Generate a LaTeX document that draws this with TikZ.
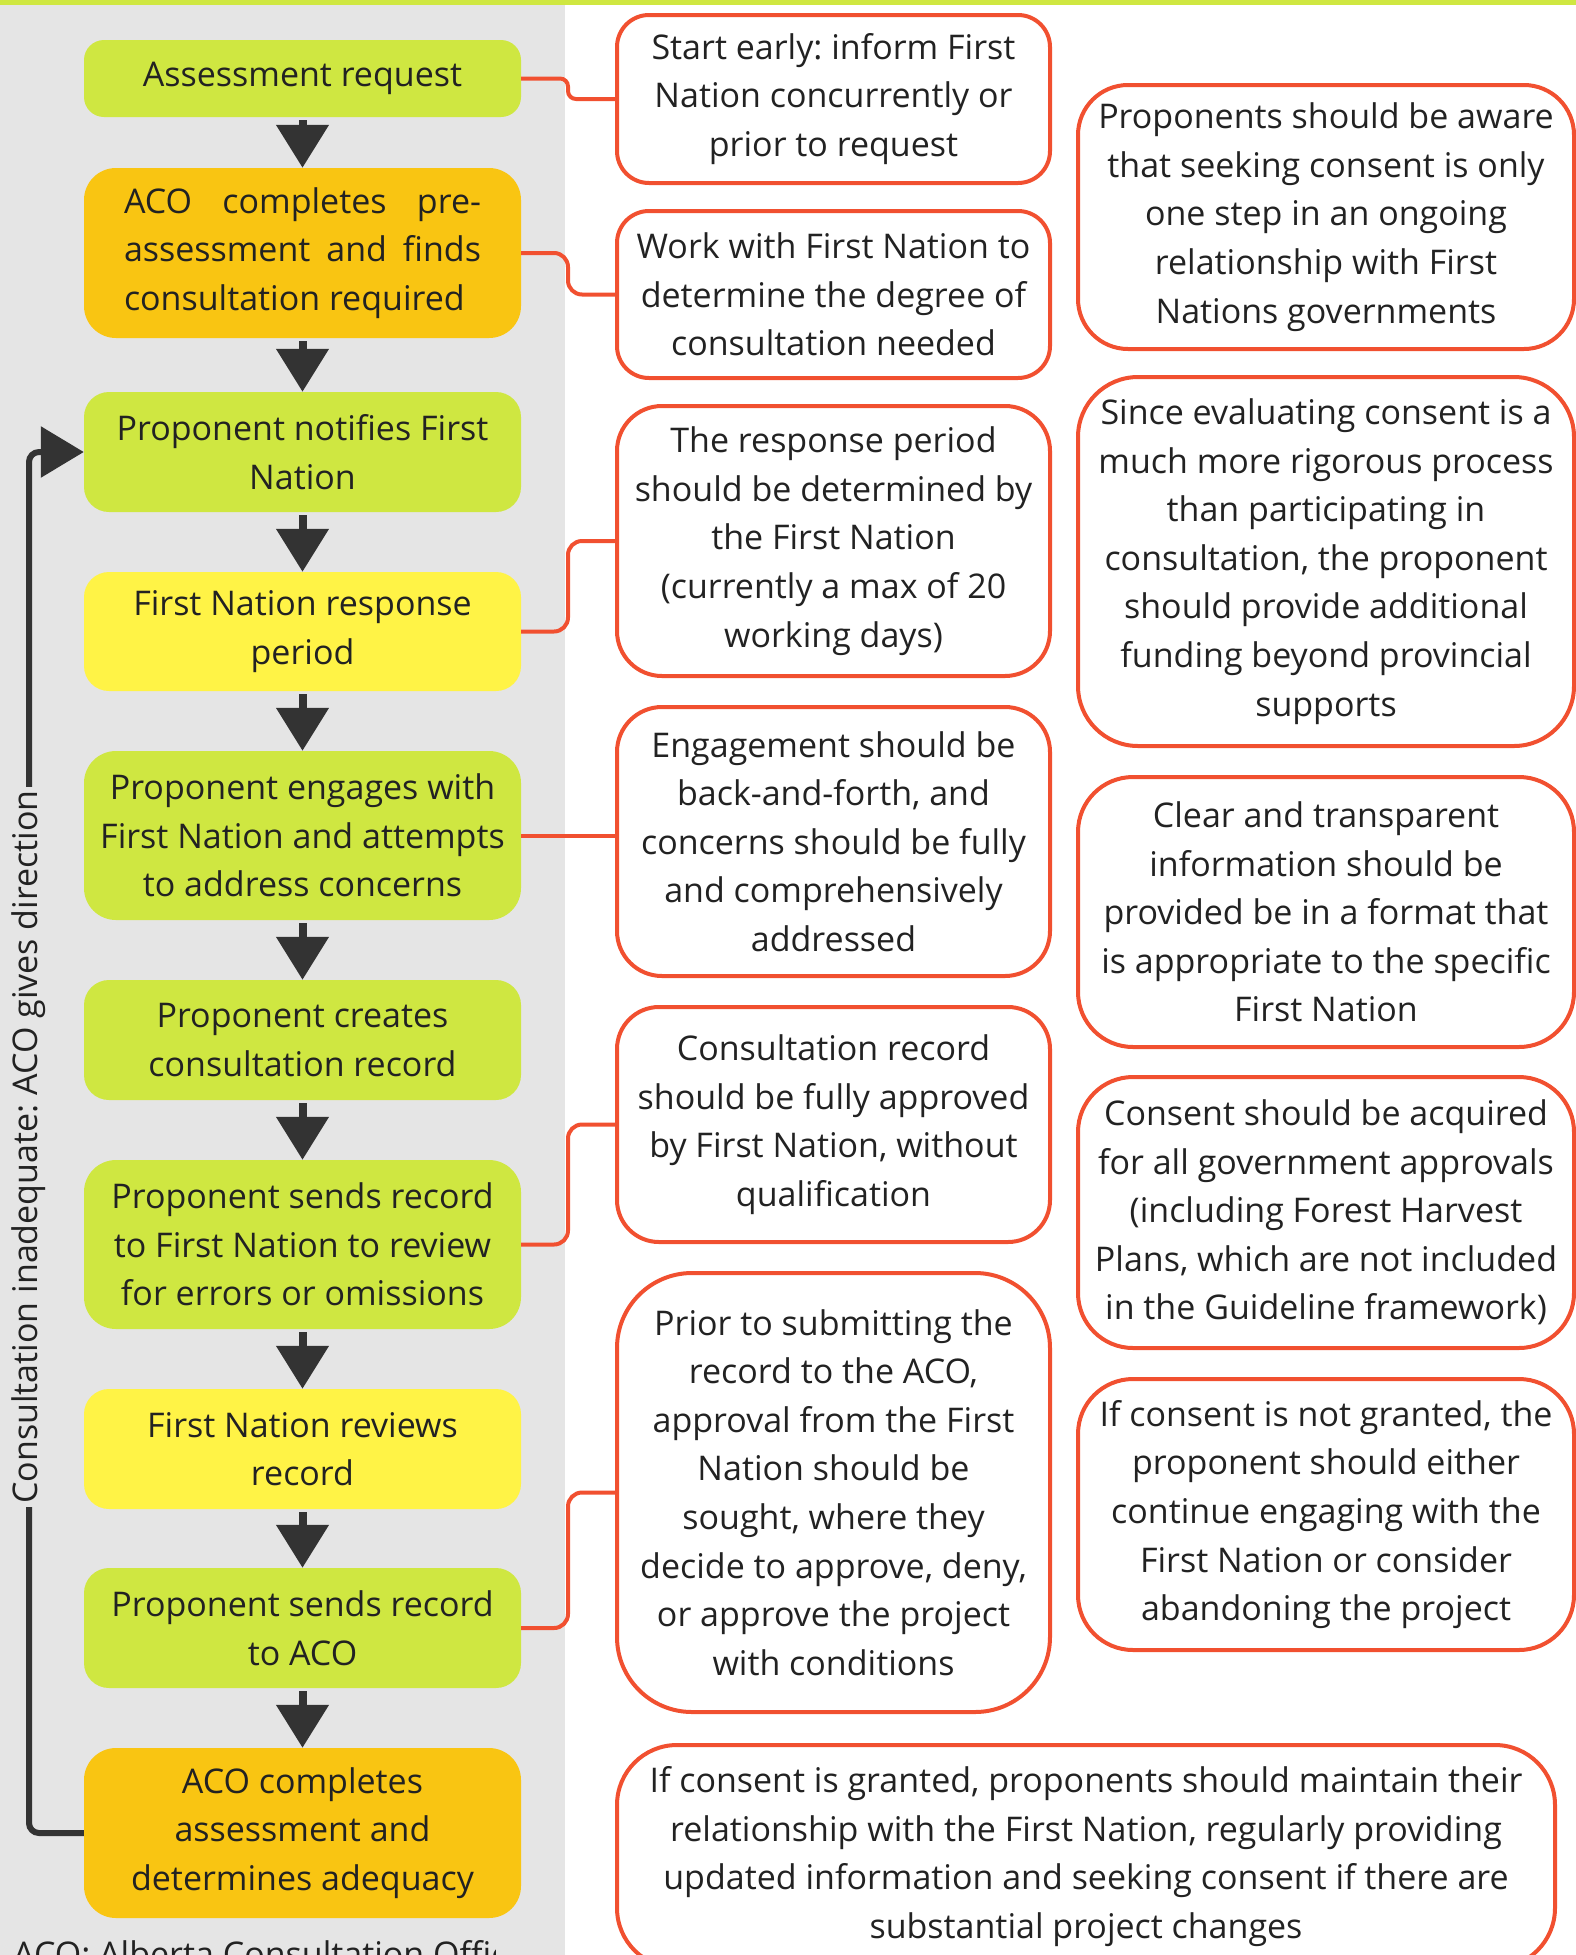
\documentclass[tikz,border=0pt]{standalone}
\usepackage{fontspec}
\setmainfont{Open Sans}
\usetikzlibrary{arrows.meta}
\definecolor{lime}{RGB}{207,231,65}
\definecolor{amber}{RGB}{249,197,18}
\definecolor{lemon}{RGB}{255,243,70}
\definecolor{panel}{RGB}{229,229,229}
\definecolor{redline}{RGB}{241,80,48}
\definecolor{dark}{RGB}{51,51,51}
\definecolor{txt}{RGB}{34,34,34}
\newcommand\boxfont{\fontsize{34pt}{48.6pt}\selectfont}
\newlength\jw
\setlength\jw{357pt}
\newcommand\justline[1]{\makebox[\jw][s]{#1}}
\frenchspacing
\begin{document}
\begin{tikzpicture}[x=1pt,y=-1pt,
  stepbox/.style={fill=#1, draw=none, minimum width=437pt, inner sep=0pt, align=center, font=\boxfont, text=txt},
  note/.style={draw=redline, line width=4pt, fill=white, inner sep=0pt, align=center, font=\boxfont, text=txt},
  flow/.style={draw=dark, line width=8pt, -{Triangle[width=51pt,length=43pt]}},
  back/.style={draw=dark, line width=6pt, rounded corners=10pt, -{Triangle[width=50pt,length=43pt]}},
  conn/.style={draw=redline, line width=4pt, rounded corners=#1},
  conn/.default=14pt,
]
\useasboundingbox (0,0) rectangle (1576,1955);
\clip (0,0) rectangle (1576,1955);
\fill[panel] (0,0) rectangle (565,1955);
\fill[lime] (0,0) rectangle (1576,5);

% left process column
\node[stepbox=lime, minimum height=77pt, rounded corners=20pt] (L1) at (302.5,78.5) {Assessment request};
\node[stepbox=amber, minimum height=170pt, rounded corners=32pt, align=left] (L2) at (302.5,253) {\justline{ACO completes pre-}\\\justline{assessment and finds}\\consultation required};
\node[stepbox=lime, minimum height=120pt, rounded corners=25pt] (L3) at (302.5,452) {Proponent notifies First\\Nation};
\node[stepbox=lemon, minimum height=119pt, rounded corners=25pt] (L4) at (302.5,631.5) {First Nation response\\period};
\node[stepbox=lime, minimum height=169pt, rounded corners=32pt] (L5) at (302.5,835.5) {Proponent engages with\\First Nation and attempts\\to address concerns};
\node[stepbox=lime, minimum height=120pt, rounded corners=25pt] (L6) at (302.5,1040) {Proponent creates\\consultation record};
\node[stepbox=lime, minimum height=169pt, rounded corners=32pt] (L7) at (302.5,1244.5) {Proponent sends record\\to First Nation to review\\for errors or omissions};
\node[stepbox=lemon, minimum height=120pt, rounded corners=25pt] (L8) at (302.5,1449) {First Nation reviews\\record};
\node[stepbox=lime, minimum height=120pt, rounded corners=25pt] (L9) at (302.5,1628) {Proponent sends record\\to ACO};
\node[stepbox=amber, minimum height=170pt, rounded corners=32pt] (L10) at (302.5,1833) {ACO completes\\assessment and\\determines adequacy};

% middle notes
\node[note, minimum width=433pt, minimum height=168pt, rounded corners=32pt] (M1) at (833.5,99) {Start early: inform First\\Nation concurrently or\\prior to request};
\node[note, minimum width=433pt, minimum height=167pt, rounded corners=32pt] (M2) at (833.5,294.5) {Work with First Nation to\\determine the degree of\\consultation needed};
\node[note, minimum width=433pt, minimum height=270pt, rounded corners=45pt] (M3) at (833.5,541) {The response period\\should be determined by\\the First Nation\\(currently a max of 20\\working days)};
\node[note, minimum width=433pt, minimum height=269pt, rounded corners=45pt] (M4) at (833.5,841.5) {Engagement should be\\back-and-forth, and\\concerns should be fully\\and comprehensively\\addressed};
\node[note, minimum width=433pt, minimum height=235pt, rounded corners=42pt] (M5) at (833.5,1124.5) {Consultation record\\should be fully approved\\by First Nation, without\\qualification};
\node[note, minimum width=433pt, minimum height=439pt, rounded corners=75pt] (M6) at (833.5,1492.5) {Prior to submitting the\\record to the ACO,\\approval from the First\\Nation should be\\sought, where they\\decide to approve, deny,\\or approve the project\\with conditions};

% right notes
\node[note, minimum width=496pt, minimum height=264pt, rounded corners=50pt] (R1) at (1326,217) {Proponents should be aware\\that seeking consent is only\\one step in an ongoing\\relationship with First\\Nations governments};
\node[note, minimum width=496pt, minimum height=369pt, rounded corners=60pt] (R2) at (1326,561.5) {Since evaluating consent is a\\much more rigorous process\\than participating in\\consultation, the proponent\\should provide additional\\funding beyond provincial\\supports};
\node[note, minimum width=496pt, minimum height=270pt, rounded corners=55pt] (R3) at (1326,912) {Clear and transparent\\information should be\\provided be in a format that\\is appropriate to the specific\\First Nation};
\node[note, minimum width=496pt, minimum height=271pt, rounded corners=55pt] (R4) at (1326,1212.5) {Consent should be acquired\\for all government approvals\\(including Forest Harvest\\Plans, which are not included\\in the Guideline framework)};
\node[note, minimum width=496pt, minimum height=271pt, rounded corners=55pt] (R5) at (1326,1514.5) {If consent is not granted, the\\proponent should either\\continue engaging with the\\First Nation or consider\\abandoning the project};

% bottom note
\node[note, minimum width=938pt, minimum height=223pt, rounded corners=60pt] (B) at (1086,1856.5) {If consent is granted, proponents should maintain their\\relationship with the First Nation, regularly providing\\updated information and seeking consent if there are\\substantial project changes};

% connectors from steps to notes
\coordinate (cx) at (568,0);
\draw[conn=8pt] (L1.east) -- (L1.east -| cx) -- (M1.west -| cx) -- (M1.west);
\draw[conn] (L2.east) -- (L2.east -| cx) -- (M2.west -| cx) -- (M2.west);
\draw[conn] (L4.east) -- (L4.east -| cx) -- (M3.west -| cx) -- (M3.west);
\draw[conn] (L5.east) -- (L5.east -| M4.west);
\draw[conn] (L7.east) -- (L7.east -| cx) -- (M5.west -| cx) -- (M5.west);
\draw[conn] (L9.east) -- (L9.east -| cx) -- (M6.west -| cx) -- (M6.west);

% flow arrows
\foreach \a/\b in {L1/L2,L2/L3,L3/L4,L4/L5,L5/L6,L6/L7,L7/L8,L8/L9,L9/L10}
  \draw[flow] ([yshift=-3pt]\a.south) -- (\b.north);

% feedback loop
\coordinate (bx) at (29,0);
\draw[back] (L10.west) -- (L10.west -| bx) -- (L3.west -| bx) -- (L3.west);
\node[rotate=90, fill=panel, inner sep=3pt, font=\boxfont, text=txt] (lab) at (29,1147) {Consultation inadequate: ACO gives direction};

% footnote (cut off at the bottom edge, as in the reference)
\begin{scope}
\clip (0,1900) rectangle (495,1955);
\node[anchor=base west, inner sep=0pt, font=\boxfont, text=txt] (foot) at (13,1966) {ACO: Alberta Consultation Office};
\end{scope}
\end{tikzpicture}
\end{document}
